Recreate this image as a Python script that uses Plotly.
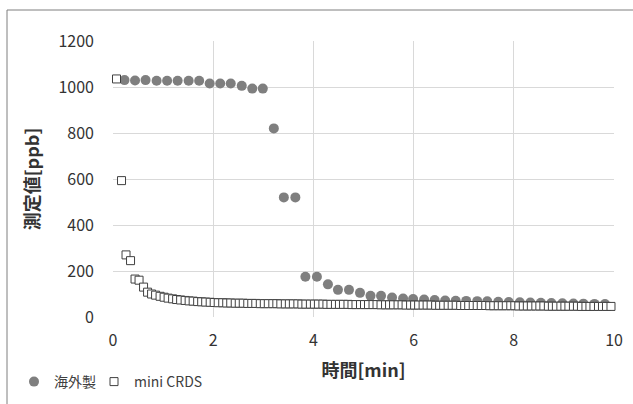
import plotly.graph_objects as go

# 海外製 (filled circles)
overseas_x = [0.23, 0.44, 0.65, 0.87, 1.08, 1.29, 1.51, 1.72, 1.93, 2.14, 2.35, 2.57, 2.78, 2.99,
              3.21, 3.41, 3.64, 3.84, 4.07, 4.29, 4.49, 4.71, 4.93, 5.14, 5.35, 5.57, 5.79, 5.99,
              6.21, 6.42, 6.63, 6.84, 7.05, 7.27, 7.47, 7.69, 7.90, 8.12, 8.33, 8.54, 8.75, 8.97,
              9.19, 9.39, 9.61, 9.82, 10.03]
overseas_y = [1030, 1028, 1030, 1027, 1027, 1027, 1027, 1027, 1015, 1015, 1015, 1005, 993, 993,
              820, 520, 520, 175, 175, 142, 118, 118, 105, 92, 92, 85, 80, 78,
              76, 74, 72, 71, 70, 69, 68, 66, 65, 64, 63, 62, 61, 60,
              59, 58, 57, 56, 55]

# mini CRDS (open squares)
crds_x = [0.07, 0.17, 0.26, 0.35, 0.44, 0.52, 0.61, 0.69,
          0.77, 0.85, 0.94, 1.02, 1.10, 1.19, 1.27, 1.35, 1.44, 1.52, 1.60, 1.69,
          1.77, 1.85, 1.94, 2.02, 2.10, 2.19, 2.27, 2.35, 2.44, 2.52, 2.60, 2.69,
          2.77, 2.85, 2.94, 3.02, 3.10, 3.19, 3.27, 3.35, 3.44, 3.52, 3.60, 3.69,
          3.77, 3.85, 3.94, 4.02, 4.10, 4.19, 4.27, 4.35, 4.44, 4.52, 4.60, 4.69,
          4.77, 4.85, 4.94, 5.02, 5.10, 5.19, 5.27, 5.35, 5.44, 5.52, 5.60, 5.69,
          5.77, 5.85, 5.94, 6.02, 6.10, 6.19, 6.27, 6.35, 6.44, 6.52, 6.60, 6.69,
          6.77, 6.85, 6.94, 7.02, 7.10, 7.19, 7.27, 7.35, 7.44, 7.52, 7.60, 7.69,
          7.77, 7.85, 7.94, 8.02, 8.10, 8.19, 8.27, 8.35, 8.44, 8.52, 8.60, 8.69,
          8.77, 8.85, 8.94, 9.02, 9.10, 9.19, 9.27, 9.35, 9.44, 9.52, 9.60, 9.69,
          9.77, 9.85, 9.94, 10.02]
crds_y = [1035, 593, 270, 245, 165, 160, 130, 108,
          100, 95, 90, 86, 82, 79, 76, 74, 72, 70, 69, 67,
          66, 65, 64, 63, 62, 62, 61, 61, 60, 60, 60, 59,
          59, 59, 58, 58, 58, 58, 58, 57, 57, 57, 57, 57,
          56, 56, 56, 56, 56, 56, 55, 55, 55, 55, 55, 55,
          54, 54, 54, 54, 54, 54, 54, 53, 53, 53, 53, 53,
          53, 52, 52, 52, 52, 52, 52, 52, 51, 51, 51, 51,
          51, 51, 50, 50, 50, 50, 50, 50, 50, 49, 49, 49,
          49, 49, 49, 49, 48, 48, 48, 48, 48, 48, 48, 47,
          47, 47, 47, 47, 47, 47, 47, 46, 46, 46, 46, 46,
          46, 46, 46, 46]

x_ticks = [0, 2, 4, 6, 8, 10]
y_ticks = [0, 200, 400, 600, 800, 1000, 1200]

FONT = "Noto Sans CJK JP"
TXT = "#333333"
GRID = "#d9d9d9"

fig = go.Figure()
fig.add_trace(go.Scatter(
    x=overseas_x, y=overseas_y, mode="markers", name="海外製",
    marker=dict(symbol="circle", size=10, color="#7f7f7f", line=dict(width=0)),
    cliponaxis=False, legend="legend",
))
fig.add_trace(go.Scatter(
    x=crds_x, y=crds_y, mode="markers", name="mini CRDS",
    marker=dict(symbol="square", size=8, color="white", line=dict(color="#404040", width=1)),
    cliponaxis=False, legend="legend2",
))

W, H = 633, 404
L, R, T, B = 113, 19, 41, 87
pw, ph = W - L - R, H - T - B

def px(x):
    return (x - L) / pw

def py(y):
    return (H - B - y) / ph

fig.add_shape(type="rect", xref="paper", yref="paper",
              x0=px(7), x1=px(645), y0=py(415), y1=py(10),
              line=dict(color="#7f7f7f", width=1), fillcolor="rgba(0,0,0,0)", layer="below")

leg_common = dict(orientation="h", y=py(382), xanchor="left", yanchor="middle",
                  font=dict(size=14, color="#404040", family=FONT), bgcolor="rgba(0,0,0,0)",
                  itemsizing="trace", itemwidth=30)

fig.update_layout(
    width=W, height=H,
    margin=dict(l=L, r=R, t=T, b=B, autoexpand=False),
    paper_bgcolor="white", plot_bgcolor="white",
    font=dict(family=FONT, color=TXT),
    showlegend=True,
    legend=dict(x=px(14), **leg_common),
    legend2=dict(x=px(94), **leg_common),
    xaxis=dict(range=[0, 10], tickvals=x_ticks, ticktext=[str(v) for v in x_ticks],
               showgrid=True, gridcolor=GRID, gridwidth=1, zeroline=False, automargin=False,
               showline=False, ticks="", ticklabelstandoff=12,
               tickfont=dict(size=16, color=TXT, family=FONT),
               title=dict(text="<b>時間[min]</b>", font=dict(size=18, color=TXT, family=FONT), standoff=14)),
    yaxis=dict(range=[0, 1200], tickvals=y_ticks, ticktext=[str(v) for v in y_ticks],
               showgrid=True, gridcolor=GRID, gridwidth=1, zeroline=False, automargin=False,
               showline=False, ticks="", ticklabelstandoff=18,
               tickfont=dict(size=16, color=TXT, family=FONT),
               title=dict(text="<b>測定値[ppb]</b>", font=dict(size=18, color=TXT, family=FONT), standoff=14)),
)

fig.write_html("out.html", config={"displayModeBar": False},
               post_script="document.body.style.margin='0';")
